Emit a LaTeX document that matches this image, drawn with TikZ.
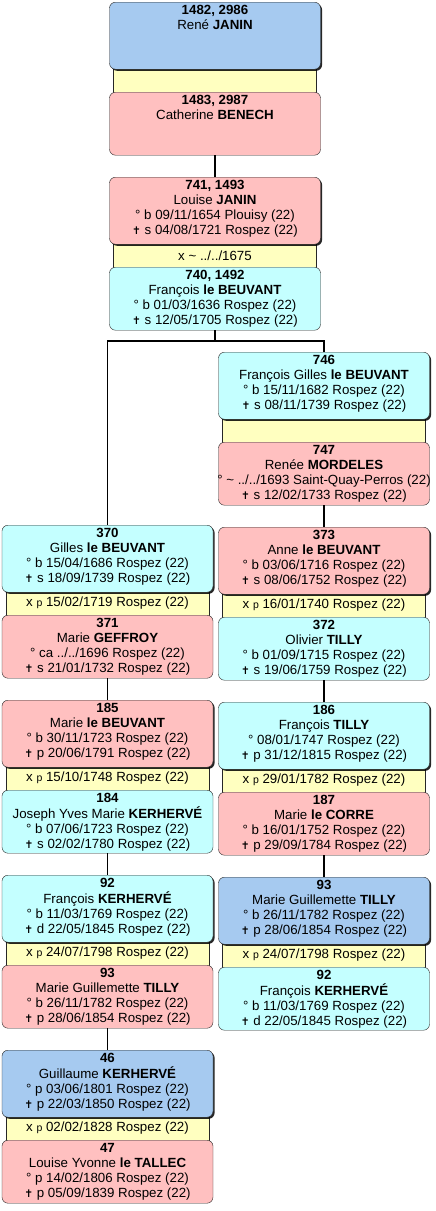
\documentclass[tikz,border=0pt]{standalone}
\usepackage{fontspec}
\setmainfont{Liberation Sans}
\newfontfamily\symfont{DejaVu Sans}
\usetikzlibrary{shadows}
\definecolor{bluebox}{HTML}{A6CAF0}
\definecolor{pinkbox}{HTML}{FFC0C0}
\definecolor{cyanbox}{HTML}{C4FFFF}
\definecolor{yellowband}{HTML}{FFFFC0}
\tikzstyle{person} = [draw=black!85, rounded corners=6pt, anchor=north, inner xsep=0pt, inner ysep=1pt, minimum width=211pt, font=\fontsize{13.3}{15}\selectfont, text height=11pt]
\tikzstyle{upperbox} = [person, text depth=54pt, drop shadow={shadow xshift=1.6pt, shadow yshift=-1.6pt, fill=black, opacity=0.85}]
\tikzstyle{lowerbox} = [person, text depth=50pt]
\tikzstyle{band} = [draw=black!85, fill=yellowband, minimum width=203pt, minimum height=29pt, inner sep=0pt, font=\fontsize{13.3}{15}\selectfont]
\tikzstyle{link} = [line width=1.6pt]
\newcommand{\card}[1]{\begin{tabular}[t]{@{}c@{}}#1\end{tabular}}
\newcommand{\dcross}{{\symfont\fontsize{10.5}{10}\selectfont ✝}}
\newcommand{\xp}{x {\fontsize{10.5}{10}\selectfont p}}

\begin{document}
\begin{tikzpicture}[x=1pt, y=-1pt]
    \useasboundingbox (0,0) rectangle (436,1211);

    % Top generations
    \node[band] (m1) at (215,80.5) {};
    \node[upperbox, fill=bluebox] (b1) at (215,2) {\card{\textbf{1482, 2986}\\René \textbf{JANIN}}};
    \node[lowerbox, fill=pinkbox] (b2) at (215,92) {\card{\textbf{1483, 2987}\\Catherine \textbf{BENECH}}};

    \node[band] (m3) at (215,255.5) {x \textasciitilde{} ../../1675};
    \node[upperbox, fill=pinkbox] (b3) at (215,177) {\card{\textbf{741, 1493}\\Louise \textbf{JANIN}\\° b 09/11/1654 Plouisy (22)\\\dcross{} s 04/08/1721 Rospez (22)}};
    \node[lowerbox, fill=cyanbox] (b4) at (215,267) {\card{\textbf{740, 1492}\\François \textbf{le BEUVANT}\\° b 01/03/1636 Rospez (22)\\\dcross{} s 12/05/1705 Rospez (22)}};

    % Right branch
    \node[band] (m5) at (324,430.5) {};
    \node[upperbox, fill=cyanbox] (b5) at (324,352) {\card{\textbf{746}\\François Gilles \textbf{le BEUVANT}\\° b 15/11/1682 Rospez (22)\\\dcross{} s 08/11/1739 Rospez (22)}};
    \node[lowerbox, fill=pinkbox] (b6) at (324,442) {\card{\textbf{747}\\Renée \textbf{MORDELES}\\\makebox[205pt]{° \textasciitilde{} ../../1693 Saint-Quay-Perros (22)}\\\dcross{} s 12/02/1733 Rospez (22)}};

    \node[band] (m7) at (324,605.5) {\xp{} 16/01/1740 Rospez (22)};
    \node[upperbox, fill=pinkbox] (b7) at (324,527) {\card{\textbf{373}\\Anne \textbf{le BEUVANT}\\° b 03/06/1716 Rospez (22)\\\dcross{} s 08/06/1752 Rospez (22)}};
    \node[lowerbox, fill=cyanbox] (b8) at (324,617) {\card{\textbf{372}\\Olivier \textbf{TILLY}\\° b 01/09/1715 Rospez (22)\\\dcross{} s 19/06/1759 Rospez (22)}};

    \node[band] (m9) at (324,780.5) {\xp{} 29/01/1782 Rospez (22)};
    \node[upperbox, fill=cyanbox] (b9) at (324,702) {\card{\textbf{186}\\François \textbf{TILLY}\\° 08/01/1747 Rospez (22)\\\dcross{} p 31/12/1815 Rospez (22)}};
    \node[lowerbox, fill=pinkbox] (b10) at (324,792) {\card{\textbf{187}\\Marie \textbf{le CORRE}\\° b 16/01/1752 Rospez (22)\\\dcross{} p 29/09/1784 Rospez (22)}};

    \node[band] (m11) at (324,955.5) {\xp{} 24/07/1798 Rospez (22)};
    \node[upperbox, fill=bluebox] (b11) at (324,877) {\card{\textbf{93}\\Marie Guillemette \textbf{TILLY}\\° b 26/11/1782 Rospez (22)\\\dcross{} p 28/06/1854 Rospez (22)}};
    \node[lowerbox, fill=cyanbox] (b12) at (324,967) {\card{\textbf{92}\\François \textbf{KERHERVÉ}\\° b 11/03/1769 Rospez (22)\\\dcross{} d 22/05/1845 Rospez (22)}};

    % Left branch
    \node[band] (m13) at (107.5,603.5) {\xp{} 15/02/1719 Rospez (22)};
    \node[upperbox, fill=cyanbox] (b13) at (107.5,525) {\card{\textbf{370}\\Gilles \textbf{le BEUVANT}\\° b 15/04/1686 Rospez (22)\\\dcross{} s 18/09/1739 Rospez (22)}};
    \node[lowerbox, fill=pinkbox] (b14) at (107.5,615) {\card{\textbf{371}\\Marie \textbf{GEFFROY}\\° ca ../../1696 Rospez (22)\\\dcross{} s 21/01/1732 Rospez (22)}};

    \node[band] (m15) at (107.5,778.5) {\xp{} 15/10/1748 Rospez (22)};
    \node[upperbox, fill=pinkbox] (b15) at (107.5,700) {\card{\textbf{185}\\Marie \textbf{le BEUVANT}\\° b 30/11/1723 Rospez (22)\\\dcross{} p 20/06/1791 Rospez (22)}};
    \node[lowerbox, fill=cyanbox] (b16) at (107.5,790) {\card{\textbf{184}\\Joseph Yves Marie \textbf{KERHERVÉ}\\° b 07/06/1723 Rospez (22)\\\dcross{} s 02/02/1780 Rospez (22)}};

    \node[band] (m17) at (107.5,953.5) {\xp{} 24/07/1798 Rospez (22)};
    \node[upperbox, fill=cyanbox] (b17) at (107.5,875) {\card{\textbf{92}\\François \textbf{KERHERVÉ}\\° b 11/03/1769 Rospez (22)\\\dcross{} d 22/05/1845 Rospez (22)}};
    \node[lowerbox, fill=pinkbox] (b18) at (107.5,965) {\card{\textbf{93}\\Marie Guillemette \textbf{TILLY}\\° b 26/11/1782 Rospez (22)\\\dcross{} p 28/06/1854 Rospez (22)}};

    \node[band] (m19) at (107.5,1128.5) {\xp{} 02/02/1828 Rospez (22)};
    \node[upperbox, fill=bluebox] (b19) at (107.5,1050) {\card{\textbf{46}\\Guillaume \textbf{KERHERVÉ}\\° p 03/06/1801 Rospez (22)\\\dcross{} p 22/03/1850 Rospez (22)}};
    \node[lowerbox, fill=pinkbox] (b20) at (107.5,1140) {\card{\textbf{47}\\Louise Yvonne \textbf{le TALLEC}\\° p 14/02/1806 Rospez (22)\\\dcross{} p 05/09/1839 Rospez (22)}};

    % Descent lines
    \coordinate (fork) at (215,341);
    \draw[link] (b2.south) -- (b3.north);
    \draw[link] (b4.south) -- (fork);
    \draw[link] (fork) -| (b13.north);
    \draw[link] (fork) -| (b5.north);
    \draw[link] (b6.south) -- (b7.north);
    \draw[link] (b8.south) -- (b9.north);
    \draw[link] (b10.south) -- (b11.north);
    \draw[link] (b14.south) -- (b15.north);
    \draw[link] (b16.south) -- (b17.north);
    \draw[link] (b18.south) -- (b19.north);
\end{tikzpicture}
\end{document}
